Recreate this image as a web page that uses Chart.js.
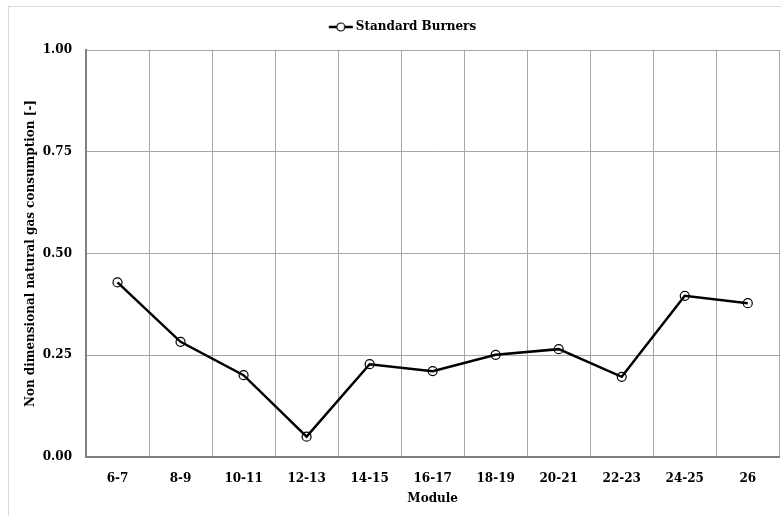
<!DOCTYPE html>
<html>
<head>
<meta charset="utf-8">
<script src="https://cdn.jsdelivr.net/npm/chart.js@4/dist/chart.umd.min.js"></script>
<style>
html,body{margin:0;padding:0;background:#fff;overflow:hidden;}
#wrap{position:relative;width:781px;height:516px;overflow:hidden;}
</style>
</head>
<body>
<div id="wrap"><canvas id="c" width="785" height="516"></canvas></div>
<script>
const categories = ["6-7","8-9","10-11","12-13","14-15","16-17","18-19","20-21","22-23","24-25","26"];
const standardBurners = [0.429,0.283,0.201,0.050,0.228,0.211,0.251,0.265,0.197,0.396,0.378];
const yTicks = [0,0.25,0.5,0.75,1.0];
const seriesName = "Standard Burners";
const xTitle = "Module";
const yTitle = "Non dimensional natural gas consumption [-]";

const FONT = "'DejaVu Serif', 'Liberation Serif', serif";

// legend marker image: line with open circle
const mk = document.createElement('canvas');
mk.width = 26; mk.height = 12;
(function(){
  const g = mk.getContext('2d');
  g.strokeStyle = '#000'; g.lineWidth = 2.5;
  g.beginPath(); g.moveTo(1,6); g.lineTo(25,6); g.stroke();
  g.lineWidth = 1.2; g.fillStyle = '#fff';
  g.beginPath(); g.arc(13,6,4,0,Math.PI*2); g.fill(); g.stroke();
})();

const borderPlugin = {
  id: 'outerBorder',
  beforeDraw(chart){
    const ctx = chart.ctx;
    ctx.save();
    ctx.fillStyle = '#fff';
    ctx.fillRect(0,0,chart.width,chart.height);
    ctx.strokeStyle = '#d9d9d9';
    ctx.lineWidth = 1;
    ctx.strokeRect(8.5, 6.5, 900, 700);
    ctx.restore();
  }
};

new Chart(document.getElementById('c'), {
  type: 'line',
  data: {
    labels: categories,
    datasets: [{
      label: seriesName,
      data: standardBurners,
      borderColor: '#000',
      borderWidth: 2.5,
      pointRadius: 4.5,
      pointBorderWidth: 1.2,
      pointBackgroundColor: 'rgba(255,255,255,0)',
      pointBorderColor: '#000',
      pointStyle: 'circle',
      tension: 0,
      fill: false
    }]
  },
  options: {
    responsive: false,
    animation: false,
    devicePixelRatio: 1,
    layout: { padding: { left: 24, right: 1, top: 11, bottom: 0 } },
    plugins: {
      tooltip: { enabled: false },
      subtitle: { display: true, text: '', weight: 500, position: 'top', padding: 0, font: { size: 7, lineHeight: 1 } },
      legend: {
        display: true,
        position: 'top',
        labels: {
          usePointStyle: true, pointStyleWidth: 18, boxHeight: 12, padding: 10, color: '#000',
          font: { family: FONT, weight: 'bold', size: 12 },
          generateLabels(chart){
            return [{ text: seriesName, pointStyle: mk, fillStyle: '#fff', strokeStyle: '#000', lineWidth: 0, datasetIndex: 0, hidden: false }];
          }
        }
      }
    },
    scales: {
      x: {
        type: 'category', offset: true,
        grid: { offset: true, color: '#a6a6a6', lineWidth: 1, drawTicks: false },
        border: { color: '#808080', width: 2 },
        ticks: { color: '#000', padding: 15, maxRotation: 0, autoSkip: false, font: { family: FONT, weight: 'bold', size: 12 } },
        title: { display: true, text: xTitle, color: '#000', padding: { top: 0, bottom: 10 }, font: { family: FONT, weight: 'bold', size: 12 } },
        afterFit(scale){ scale.height = 59; scale.paddingRight = 0; scale.paddingLeft = 0; }
      },
      y: {
        min: 0, max: 1,
        afterBuildTicks(scale){ scale.ticks = yTicks.map(v => ({ value: v })); },
        grid: { color: '#a6a6a6', lineWidth: 1, drawTicks: false },
        border: { color: '#808080', width: 2 },
        ticks: { color: '#000', padding: 14, font: { family: FONT, weight: 'bold', size: 12 }, callback: v => v.toFixed(2) },
        title: { display: true, text: yTitle, color: '#000', padding: { top: 0, bottom: 0 }, font: { family: FONT, weight: 'bold', size: 12 } },
        afterFit(scale){ scale.width = 62; }
      }
    }
  },
  plugins: [borderPlugin]
});
</script>
</body>
</html>
